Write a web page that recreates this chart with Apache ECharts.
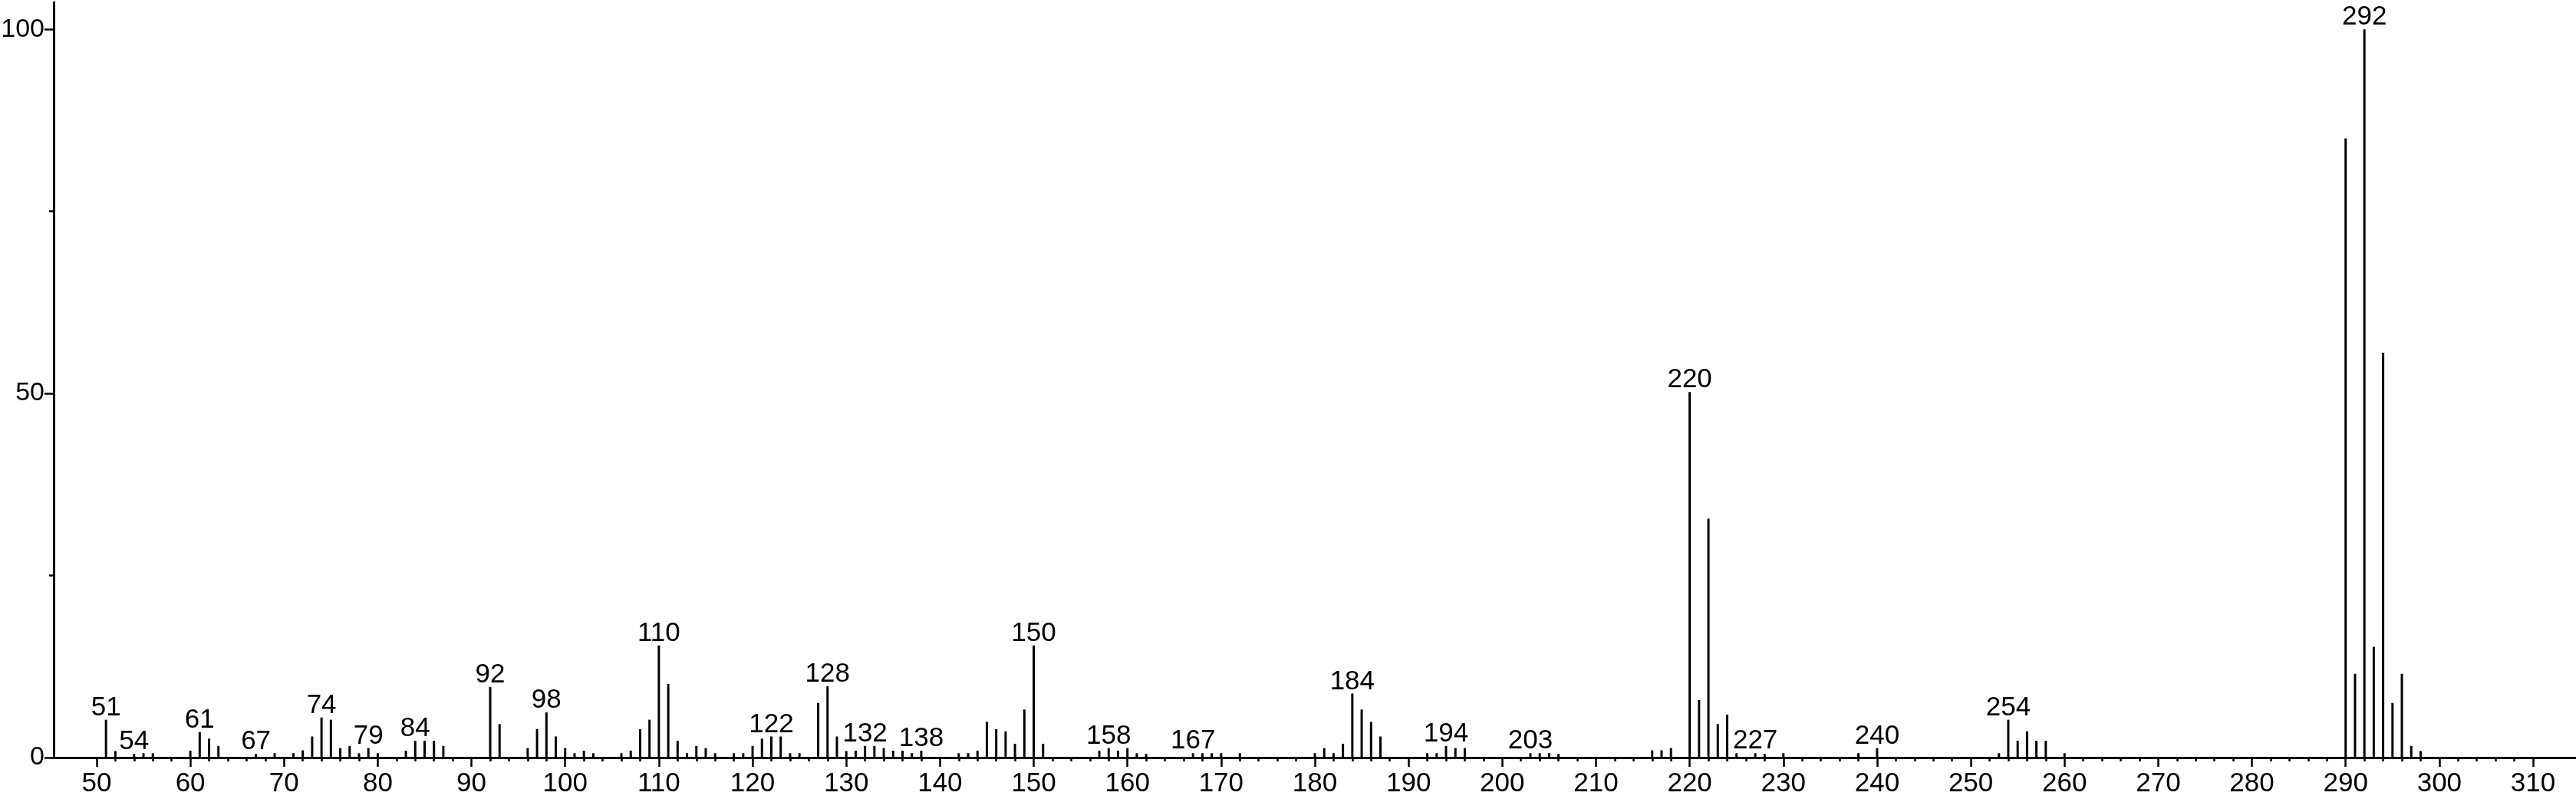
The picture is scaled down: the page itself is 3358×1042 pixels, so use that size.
<!DOCTYPE html>
<html>
<head>
<meta charset="utf-8">
<script src="https://cdn.jsdelivr.net/npm/echarts@6/dist/echarts.min.js"></script>
<style>
html,body{margin:0;padding:0;background:#fff;}
#chart{width:3358px;height:1042px;}
</style>
</head>
<body>
<div id="chart"></div>
<script>
// m/z values
const mz = [51,52,54,55,56,60,61,62,63,67,69,71,72,73,74,75,76,77,78,79,80,83,84,85,86,87,
  92,93,96,97,98,99,100,101,102,103,106,107,108,109,110,111,112,113,114,115,116,118,119,120,
  121,122,123,124,125,127,128,129,130,131,132,133,134,135,136,137,138,142,143,144,145,146,147,
  148,149,150,151,157,158,159,160,161,162,167,168,169,170,172,180,181,182,183,184,185,186,187,
  192,193,194,195,196,203,204,205,206,216,217,218,220,221,222,223,224,225,227,228,230,238,240,
  253,254,255,256,257,258,260,290,291,292,293,294,295,296,297,298];
// relative intensities (%)
const intensity = [5.2,0.9,0.5,0.6,0.6,0.95,3.5,2.6,1.6,0.5,0.6,0.6,1.0,2.9,5.5,5.2,1.3,1.6,0.6,1.3,0.6,0.95,2.3,2.3,2.3,1.6,
  9.7,4.6,1.3,3.9,6.2,2.9,1.3,0.6,0.95,0.6,0.6,0.95,3.9,5.2,15.4,10.1,2.3,0.6,1.6,1.3,0.6,0.6,0.6,1.6,
  2.6,2.9,2.9,0.6,0.6,7.5,9.8,2.9,0.9,0.95,1.6,1.6,1.3,0.95,0.95,0.6,0.95,0.6,0.6,0.95,4.9,3.9,3.6,
  1.9,6.6,15.4,1.9,0.95,1.3,0.95,1.3,0.6,0.5,0.6,0.6,0.6,0.6,0.6,0.6,1.3,0.6,1.9,8.8,6.6,4.9,2.9,
  0.6,0.6,1.6,1.3,1.3,0.6,0.6,0.6,0.5,1.0,1.0,1.3,50.2,7.9,32.8,4.6,5.9,0.6,0.6,0.5,0.6,0.6,1.3,
  0.6,5.2,2.3,3.6,2.3,2.3,0.6,85,11.5,100,15.2,55.6,7.5,11.5,1.6,0.9];
// peaks carrying an m/z label
const labeled = [51,54,61,67,74,79,84,92,98,110,122,128,132,138,150,158,167,184,194,203,220,227,240,254,292];
// axis ticks
const xMajorTicks = [50,60,70,80,90,100,110,120,130,140,150,160,170,180,190,200,210,220,230,240,250,260,270,280,290,300,310];
const xMinorTicks = [];
for (let v = 52; v <= 308; v += 2) { if (v % 10 !== 0) xMinorTicks.push(v); }
const yMajorTicks = [0,50,100];
const yMinorTicks = [25,75];

const FONT = '"Liberation Sans Narrow", "Arial Narrow", "Liberation Sans", Arial, sans-serif';
const chart = echarts.init(document.getElementById('chart'), null, {renderer: 'canvas'});

const data = mz.map((m, i) => ({
  value: [m, intensity[i]],
  label: {show: labeled.indexOf(m) >= 0}
}));

const xMin = 45.42, xMax = 314.5, yMax = 103.7;

chart.setOption({
  animation: false,
  backgroundColor: '#ffffff',
  grid: {left: 70, right: 1, top: 3, bottom: 54, containLabel: false, outerBoundsMode: 'none'},
  xAxis: [{
    type: 'value', min: xMin, max: xMax, position: 'bottom',
    axisLine: {show: true, onZero: false, lineStyle: {color: '#000', width: 3}},
    axisTick: {show: true, customValues: xMajorTicks, length: 12, lineStyle: {color: '#000', width: 2.5}},
    axisLabel: {show: true, customValues: xMajorTicks, color: '#000', fontSize: 35, fontFamily: FONT, margin: 17},
    splitLine: {show: false}
  }, {
    type: 'value', min: xMin, max: xMax, position: 'bottom',
    axisLine: {show: false},
    axisTick: {show: true, customValues: xMinorTicks, length: 5, lineStyle: {color: '#000', width: 2.5}},
    axisLabel: {show: false},
    splitLine: {show: false}
  }],
  yAxis: [{
    type: 'value', min: 0, max: yMax, position: 'left',
    axisLine: {show: true, lineStyle: {color: '#000', width: 3}},
    axisTick: {show: true, customValues: yMajorTicks, length: 12, lineStyle: {color: '#000', width: 2.5}},
    axisLabel: {show: true, customValues: yMajorTicks, color: '#000', fontSize: 34, fontFamily: FONT, margin: 12},
    splitLine: {show: false}
  }, {
    type: 'value', min: 0, max: yMax, position: 'left', offset: 0,
    axisLine: {show: false},
    axisTick: {show: true, customValues: yMinorTicks, length: 6, lineStyle: {color: '#000', width: 2.5}},
    axisLabel: {show: false},
    splitLine: {show: false}
  }],
  series: [{
    type: 'bar',
    xAxisIndex: 0, yAxisIndex: 0,
    barWidth: 3,
    silent: true,
    itemStyle: {color: '#000'},
    label: {
      position: 'top', distance: -2, color: '#000', fontSize: 35, fontFamily: FONT,
      formatter: p => String(p.value[0])
    },
    data: data
  }]
});
</script>
</body>
</html>
